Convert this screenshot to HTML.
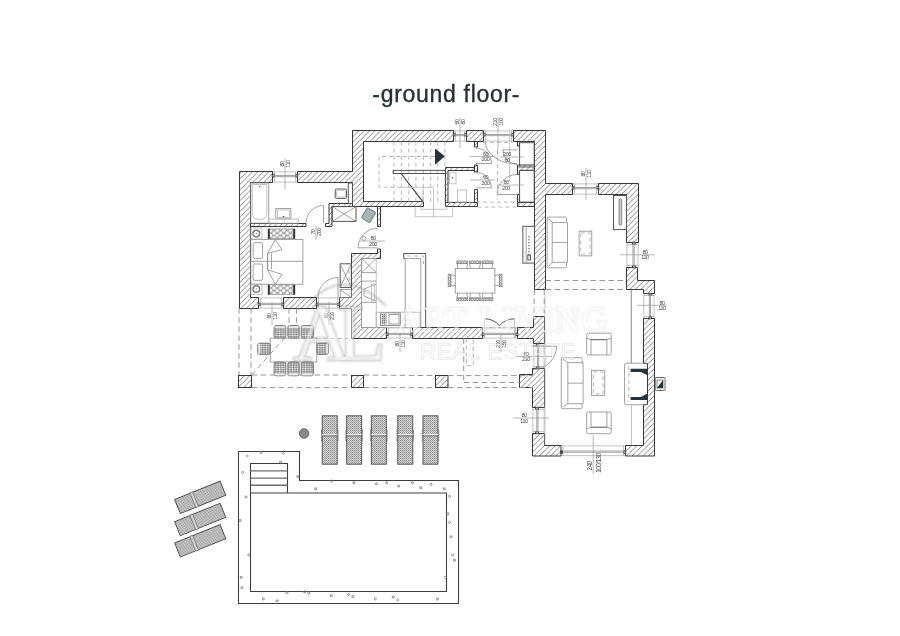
<!DOCTYPE html><html><head><meta charset="utf-8"><style>html,body{margin:0;padding:0;background:#fff;width:900px;height:636px;overflow:hidden}svg{display:block}</style></head><body>
<svg width="900" height="636" viewBox="0 0 900 636" style="will-change:transform">
<defs>
<pattern id="h" patternUnits="userSpaceOnUse" width="5.44" height="5.44">
<path d="M-1,1 L1,-1 M0,5.44 L5.44,0 M4.44,6.44 L6.44,4.44" stroke="#5e5e5e" stroke-width="0.75"/>
</pattern>
<pattern id="dots" patternUnits="userSpaceOnUse" width="2" height="2">
<rect width="2" height="2" fill="#bdbdbd"/><rect width="1" height="1" fill="#7a7a7a"/>
</pattern>
<pattern id="dots2" patternUnits="userSpaceOnUse" width="2" height="2">
<rect width="2" height="2" fill="#d2d2d2"/><rect width="1" height="1" fill="#949494"/><rect x="1" y="1" width="1" height="1" fill="#a8a8a8"/>
</pattern>
<pattern id="mesh" patternUnits="userSpaceOnUse" width="2.6" height="2.2">
<rect width="2.6" height="2.2" fill="#8c8c8c"/><ellipse cx="1.3" cy="1.1" rx="0.9" ry="0.75" fill="#f4f4f4"/>
</pattern>
<pattern id="cir" patternUnits="userSpaceOnUse" width="6.6" height="5" x="269" y="229.3">
<rect width="6.6" height="5" fill="#9a9a9a"/><circle cx="1.65" cy="1.25" r="1.7" fill="#fafafa"/><circle cx="4.95" cy="3.75" r="1.7" fill="#fafafa"/><circle cx="4.95" cy="-1.25" r="1.7" fill="#fafafa"/><circle cx="1.65" cy="6.25" r="1.7" fill="#fafafa"/><circle cx="-1.65" cy="3.75" r="1.7" fill="#fafafa"/><circle cx="8.25" cy="1.25" r="1.7" fill="#fafafa"/>
</pattern>
<filter id="soft" x="-5%" y="-20%" width="110%" height="140%"><feGaussianBlur stdDeviation="0.9"/></filter>
</defs>
<style>
.w{fill:url(#h);stroke:#2e2e2e;stroke-width:0.95;stroke-linejoin:miter}
.l{fill:none;stroke:#8c8c8c;stroke-width:0.8}
.lg{fill:none;stroke:#b5b5b5;stroke-width:0.8}
.ld{fill:none;stroke:#555;stroke-width:1}
.pl{fill:none;stroke:#3e3e3e;stroke-width:1.05}
.pl2{fill:none;stroke:#6a6a6a;stroke-width:1.4}
.lk{fill:none;stroke:#3a3a3a;stroke-width:1.1}
.dash{fill:none;stroke:#959595;stroke-width:1;stroke-dasharray:5.5 3.5}
.dashl{fill:none;stroke:#b0b0b0;stroke-width:0.9;stroke-dasharray:4 3}
.t{font-family:"Liberation Sans",sans-serif;fill:#4a4a4a;font-size:5.5px;letter-spacing:-0.45px}
.wm{font-family:"Liberation Serif",serif;fill:#fff;fill-opacity:0.85;stroke:#e0e0e0;stroke-width:1.6;paint-order:stroke}
.wml{fill:none;stroke:#e6e6e6;stroke-width:1.1}
.dl{fill:none;stroke:#9a9a9a;stroke-width:0.7}
.wms{font-family:"Liberation Sans",sans-serif;fill:#fff;fill-opacity:0.6;stroke:#e2e2e2;stroke-width:0.8;paint-order:stroke}
</style>

<g filter="url(#soft)"><text class="wm" x="396" y="331.5" font-size="35" letter-spacing="1.6" fill="none" stroke="#c8c8c8" stroke-width="2.8">ART LIVING</text></g>
<text class="wms" x="420" y="358.8" font-size="22" letter-spacing="1" style="fill:none">REAL ESTATE</text>
<g filter="url(#soft)"><text x="293" y="359.5" font-size="80" style="font-family:'Liberation Serif',serif" fill="none" stroke="#cfcfcf" stroke-width="2.4">A</text><text x="337" y="359.5" font-size="80" style="font-family:'Liberation Serif',serif" fill="none" stroke="#cfcfcf" stroke-width="2.4">L</text><path d="M311,301 Q345,266 386,306" fill="none" stroke="#cfcfcf" stroke-width="2.4"/></g>
<line class="lg" x1="272.5" y1="171.9" x2="297.5" y2="171.9"/>
<line class="lg" x1="272.5" y1="182.1" x2="297.5" y2="182.1"/>
<line class="l" x1="274.5" y1="175.46" x2="295.5" y2="175.46"/>
<line class="l" x1="274.5" y1="176.66" x2="295.5" y2="176.66"/>
<line class="lg" x1="274.5" y1="171.5" x2="274.5" y2="182.5"/>
<line class="lg" x1="295.5" y1="171.5" x2="295.5" y2="182.5"/>
<line class="lg" x1="453.5" y1="130.9" x2="466.5" y2="130.9"/>
<line class="lg" x1="453.5" y1="141.1" x2="466.5" y2="141.1"/>
<line class="l" x1="455.5" y1="134.46" x2="464.5" y2="134.46"/>
<line class="l" x1="455.5" y1="135.66" x2="464.5" y2="135.66"/>
<line class="lg" x1="455.5" y1="130.5" x2="455.5" y2="141.5"/>
<line class="lg" x1="464.5" y1="130.5" x2="464.5" y2="141.5"/>
<line class="lg" x1="483.5" y1="130.9" x2="513.5" y2="130.9"/>
<line class="lg" x1="483.5" y1="141.1" x2="513.5" y2="141.1"/>
<line class="l" x1="485.5" y1="134.46" x2="511.5" y2="134.46"/>
<line class="l" x1="485.5" y1="135.66" x2="511.5" y2="135.66"/>
<line class="lg" x1="485.5" y1="130.5" x2="485.5" y2="141.5"/>
<line class="lg" x1="511.5" y1="130.5" x2="511.5" y2="141.5"/>
<line class="lg" x1="572.5" y1="183.9" x2="598.5" y2="183.9"/>
<line class="lg" x1="572.5" y1="194.1" x2="598.5" y2="194.1"/>
<line class="l" x1="574.5" y1="187.46" x2="596.5" y2="187.46"/>
<line class="l" x1="574.5" y1="188.66" x2="596.5" y2="188.66"/>
<line class="lg" x1="574.5" y1="183.5" x2="574.5" y2="194.5"/>
<line class="lg" x1="596.5" y1="183.5" x2="596.5" y2="194.5"/>
<line class="lg" x1="258.5" y1="297.9" x2="283.5" y2="297.9"/>
<line class="lg" x1="258.5" y1="308.1" x2="283.5" y2="308.1"/>
<line class="l" x1="260.5" y1="303.34" x2="281.5" y2="303.34"/>
<line class="l" x1="260.5" y1="304.54" x2="281.5" y2="304.54"/>
<line class="lg" x1="260.5" y1="297.5" x2="260.5" y2="308.5"/>
<line class="lg" x1="281.5" y1="297.5" x2="281.5" y2="308.5"/>
<line class="lg" x1="316.5" y1="297.9" x2="339.5" y2="297.9"/>
<line class="lg" x1="316.5" y1="308.1" x2="339.5" y2="308.1"/>
<line class="l" x1="318.5" y1="303.34" x2="337.5" y2="303.34"/>
<line class="l" x1="318.5" y1="304.54" x2="337.5" y2="304.54"/>
<line class="lg" x1="318.5" y1="297.5" x2="318.5" y2="308.5"/>
<line class="lg" x1="337.5" y1="297.5" x2="337.5" y2="308.5"/>
<line class="lg" x1="386.5" y1="327.9" x2="412.5" y2="327.9"/>
<line class="lg" x1="386.5" y1="338.1" x2="412.5" y2="338.1"/>
<line class="l" x1="388.5" y1="333.34" x2="410.5" y2="333.34"/>
<line class="l" x1="388.5" y1="334.54" x2="410.5" y2="334.54"/>
<line class="lg" x1="388.5" y1="327.5" x2="388.5" y2="338.5"/>
<line class="lg" x1="410.5" y1="327.5" x2="410.5" y2="338.5"/>
<line class="lg" x1="482.5" y1="327.9" x2="517.5" y2="327.9"/>
<line class="lg" x1="482.5" y1="338.1" x2="517.5" y2="338.1"/>
<line class="l" x1="484.5" y1="333.34" x2="515.5" y2="333.34"/>
<line class="l" x1="484.5" y1="334.54" x2="515.5" y2="334.54"/>
<line class="lg" x1="484.5" y1="327.5" x2="484.5" y2="338.5"/>
<line class="lg" x1="515.5" y1="327.5" x2="515.5" y2="338.5"/>
<line class="lg" x1="561" y1="445.9" x2="625.5" y2="445.9"/>
<line class="lg" x1="561" y1="455.6" x2="625.5" y2="455.6"/>
<line class="l" x1="563" y1="451.02" x2="623.5" y2="451.02"/>
<line class="l" x1="563" y1="452.22" x2="623.5" y2="452.22"/>
<line class="lg" x1="563" y1="445.5" x2="563" y2="456"/>
<line class="lg" x1="623.5" y1="445.5" x2="623.5" y2="456"/>
<line class="lg" x1="626.9" y1="242.5" x2="626.9" y2="267.5"/>
<line class="lg" x1="638.1" y1="242.5" x2="638.1" y2="267.5"/>
<line class="l" x1="632.98" y1="244.5" x2="632.98" y2="265.5"/>
<line class="l" x1="634.18" y1="244.5" x2="634.18" y2="265.5"/>
<line class="lg" x1="626.5" y1="244.5" x2="638.5" y2="244.5"/>
<line class="lg" x1="626.5" y1="265.5" x2="638.5" y2="265.5"/>
<line class="lg" x1="643.9" y1="293.5" x2="643.9" y2="318.5"/>
<line class="lg" x1="654.1" y1="293.5" x2="654.1" y2="318.5"/>
<line class="l" x1="649.34" y1="295.5" x2="649.34" y2="316.5"/>
<line class="l" x1="650.54" y1="295.5" x2="650.54" y2="316.5"/>
<line class="lg" x1="643.5" y1="295.5" x2="654.5" y2="295.5"/>
<line class="lg" x1="643.5" y1="316.5" x2="654.5" y2="316.5"/>
<line class="lg" x1="532.9" y1="407.5" x2="532.9" y2="433.5"/>
<line class="lg" x1="544.1" y1="407.5" x2="544.1" y2="433.5"/>
<line class="l" x1="536.82" y1="409.5" x2="536.82" y2="431.5"/>
<line class="l" x1="538.02" y1="409.5" x2="538.02" y2="431.5"/>
<line class="lg" x1="532.5" y1="409.5" x2="544.5" y2="409.5"/>
<line class="lg" x1="532.5" y1="431.5" x2="544.5" y2="431.5"/>
<line class="lg" x1="533.9" y1="343.5" x2="533.9" y2="368.5"/>
<line class="lg" x1="544.1" y1="343.5" x2="544.1" y2="368.5"/>
<line class="l" x1="537.46" y1="345.5" x2="537.46" y2="366.5"/>
<line class="l" x1="538.66" y1="345.5" x2="538.66" y2="366.5"/>
<line class="lg" x1="533.5" y1="345.5" x2="544.5" y2="345.5"/>
<line class="lg" x1="533.5" y1="366.5" x2="544.5" y2="366.5"/>
<polygon class="w" points="239.5,171.5 272.5,171.5 272.5,182.5 250.5,182.5 250.5,297.5 258.5,297.5 258.5,308.5 239.5,308.5"/>
<polygon class="w" points="297.5,171.5 352.5,171.5 352.5,130.5 453.5,130.5 453.5,141.5 363.5,141.5 363.5,201.5 423.5,201.5 423.5,206.5 352.5,206.5 352.5,182.5 297.5,182.5"/>
<polygon class="w" points="466.5,130.5 483.5,130.5 483.5,141.5 466.5,141.5"/>
<polygon class="w" points="513.5,130.5 545.5,130.5 545.5,183.5 572.5,183.5 572.5,194.5 545.5,194.5 545.5,289.5 534.5,289.5 534.5,141.5 513.5,141.5"/>
<polygon class="w" points="598.5,183.5 638.5,183.5 638.5,242.5 626.5,242.5 626.5,194.5 598.5,194.5"/>
<polygon class="w" points="626.5,267.5 637.5,267.5 637.5,280.5 654.5,280.5 654.5,293.5 643.5,293.5 643.5,289.5 626.5,289.5"/>
<polygon class="w" points="643.5,318.5 654.5,318.5 654.5,456 625.5,456 625.5,445.5 643.5,445.5 643.5,404.5 647.5,404.5 647.5,363.5 643.5,363.5"/>
<polygon class="w" points="532.5,433.5 544.5,433.5 544.5,445.5 561,445.5 561,456 532.5,456"/>
<polygon class="w" points="532.5,368.5 544.5,368.5 544.5,407.5 532.5,407.5 532.5,387.5 519.5,387.5 519.5,374.5 532.5,374.5"/>
<polygon class="w" points="533.5,316.5 544.5,316.5 544.5,343.5 533.5,343.5 533.5,338.5 517.5,338.5 517.5,327.5 533.5,327.5"/>
<polygon class="w" points="412.5,327.5 482.5,327.5 482.5,338.5 412.5,338.5"/>
<polygon class="w" points="351.5,253.5 377.5,253.5 377.5,249 380.5,249 380.5,258.5 361.5,258.5 361.5,327.5 386.5,327.5 386.5,338.5 351.5,338.5 351.5,308.5 339.5,308.5 339.5,297.5 351.5,297.5"/>
<polygon class="w" points="283.5,297.5 316.5,297.5 316.5,308.5 283.5,308.5"/>
<polygon class="w" points="445.5,202.5 477.5,202.5 477.5,206.5 445.5,206.5"/>
<polygon class="w" points="517.5,202.5 534.5,202.5 534.5,206.5 517.5,206.5"/>
<polygon class="w" points="250.5,223.5 306,223.5 306,226.5 250.5,226.5"/>
<polygon class="w" points="325.5,223.5 329,223.5 329,203.5 352.5,203.5 352.5,206.5 332,206.5 332,226.5 325.5,226.5"/>
<polygon class="w" points="377.5,206.5 380.5,206.5 380.5,226.5 377.5,226.5"/>
<polygon class="w" points="474.5,141.5 477.5,141.5 477.5,147 474.5,147"/>
<polygon class="w" points="474.5,165 477.5,165 477.5,172 474.5,172"/>
<polygon class="w" points="474.5,189.5 477.5,189.5 477.5,202.5 474.5,202.5"/>
<polygon class="w" points="445.5,167.5 474.5,167.5 474.5,170.5 448,170.5 448,202.5 445.5,202.5"/>
<polygon class="w" points="517.5,141.5 519.5,141.5 519.5,146 517.5,146"/>
<polygon class="w" points="517.5,165 534.5,165 534.5,170.5 519.5,170.5 519.5,174.5 517.5,174.5"/>
<polygon class="w" points="517.5,194.5 519.5,194.5 519.5,202.5 517.5,202.5"/>
<rect class="w" x="238.5" y="375.5" width="13" height="12" />
<rect class="w" x="351.5" y="375.5" width="12" height="12" />
<rect class="w" x="435.5" y="375.5" width="12.5" height="12" />
<rect x="272.2" y="174.25" width="1.8" height="2.75" fill="#fff" stroke="#2e2e2e" stroke-width="0.8"/>
<rect x="296" y="174.25" width="1.8" height="2.75" fill="#fff" stroke="#2e2e2e" stroke-width="0.8"/>
<rect x="453.2" y="133.25" width="1.8" height="2.75" fill="#fff" stroke="#2e2e2e" stroke-width="0.8"/>
<rect x="465" y="133.25" width="1.8" height="2.75" fill="#fff" stroke="#2e2e2e" stroke-width="0.8"/>
<rect x="483.2" y="133.25" width="1.8" height="2.75" fill="#fff" stroke="#2e2e2e" stroke-width="0.8"/>
<rect x="512" y="133.25" width="1.8" height="2.75" fill="#fff" stroke="#2e2e2e" stroke-width="0.8"/>
<rect x="572.2" y="186.25" width="1.8" height="2.75" fill="#fff" stroke="#2e2e2e" stroke-width="0.8"/>
<rect x="597" y="186.25" width="1.8" height="2.75" fill="#fff" stroke="#2e2e2e" stroke-width="0.8"/>
<rect x="258.2" y="303" width="1.8" height="2.75" fill="#fff" stroke="#2e2e2e" stroke-width="0.8"/>
<rect x="282" y="303" width="1.8" height="2.75" fill="#fff" stroke="#2e2e2e" stroke-width="0.8"/>
<rect x="316.2" y="303" width="1.8" height="2.75" fill="#fff" stroke="#2e2e2e" stroke-width="0.8"/>
<rect x="338" y="303" width="1.8" height="2.75" fill="#fff" stroke="#2e2e2e" stroke-width="0.8"/>
<rect x="386.2" y="333" width="1.8" height="2.75" fill="#fff" stroke="#2e2e2e" stroke-width="0.8"/>
<rect x="411" y="333" width="1.8" height="2.75" fill="#fff" stroke="#2e2e2e" stroke-width="0.8"/>
<rect x="482.2" y="333" width="1.8" height="2.75" fill="#fff" stroke="#2e2e2e" stroke-width="0.8"/>
<rect x="516" y="333" width="1.8" height="2.75" fill="#fff" stroke="#2e2e2e" stroke-width="0.8"/>
<rect x="560.7" y="450.75" width="1.8" height="2.62" fill="#fff" stroke="#2e2e2e" stroke-width="0.8"/>
<rect x="624" y="450.75" width="1.8" height="2.62" fill="#fff" stroke="#2e2e2e" stroke-width="0.8"/>
<rect x="632.5" y="242.2" width="3" height="1.8" fill="#fff" stroke="#2e2e2e" stroke-width="0.8"/>
<rect x="632.5" y="266" width="3" height="1.8" fill="#fff" stroke="#2e2e2e" stroke-width="0.8"/>
<rect x="649" y="293.2" width="2.75" height="1.8" fill="#fff" stroke="#2e2e2e" stroke-width="0.8"/>
<rect x="649" y="317" width="2.75" height="1.8" fill="#fff" stroke="#2e2e2e" stroke-width="0.8"/>
<rect x="535.5" y="407.2" width="3" height="1.8" fill="#fff" stroke="#2e2e2e" stroke-width="0.8"/>
<rect x="535.5" y="432" width="3" height="1.8" fill="#fff" stroke="#2e2e2e" stroke-width="0.8"/>
<rect x="536.25" y="343.2" width="2.75" height="1.8" fill="#fff" stroke="#2e2e2e" stroke-width="0.8"/>
<rect x="536.25" y="367" width="2.75" height="1.8" fill="#fff" stroke="#2e2e2e" stroke-width="0.8"/>
<path class="l" d="M306,223.1 A17.5,17.5 0 0 1 323.5,205.6"/>
<line class="l" x1="323.5" y1="223.1" x2="323.5" y2="205.6"/>
<path class="l" d="M318,297.5 A20,20 0 0 1 338,277.5"/>
<line class="l" x1="338" y1="297.5" x2="338" y2="277.5"/>
<path class="l" d="M358.1,247.8 A19.5,19.5 0 0 1 377.6,228.3"/>
<line class="l" x1="377.6" y1="247.8" x2="358.1" y2="247.8"/>
<circle cx="364" cy="238.5" r="2" fill="none" stroke="#777" stroke-width="0.7"/>
<path class="l" d="M476,148 A15.5,15.5 0 0 1 491.5,163.5"/>
<line class="l" x1="476" y1="163.5" x2="491.5" y2="163.5"/>
<path class="l" d="M476,172.3 A15.5,15.5 0 0 1 491.5,187.8"/>
<line class="l" x1="476" y1="187.8" x2="491.5" y2="187.8"/>
<path class="l" d="M502.8,149.9 A14.3,14.3 0 0 0 517.1,164.2"/>
<line class="l" x1="502.8" y1="149.9" x2="517.1" y2="149.9"/>
<path class="l" d="M497.1,194.5 A20,20 0 0 1 517.1,174.5"/>
<line class="l" x1="497.1" y1="194.5" x2="517.1" y2="194.5"/>
<path class="l" d="M485.4,141.7 A32,22.4 0 0 0 517.4,164.1"/>
<path class="l" d="M556.5,346.3 A23,23 0 0 1 533.5,369.3"/>
<line class="l" x1="532" y1="346.3" x2="556.5" y2="346.3"/>
<path class="ld" d="M484.5,318.8 A19.7,19.7 0 0 1 499.5,325.7 M514.5,318.8 A19.7,19.7 0 0 0 499.5,325.7"/>
<line class="lg" x1="484.5" y1="318.8" x2="484.5" y2="338.5"/>
<line class="lg" x1="514.5" y1="318.8" x2="514.5" y2="338.5"/>
<line class="dashl" x1="482.5" y1="327.5" x2="517.5" y2="327.5"/>
<rect class="l" x="250.8" y="183" width="18" height="40.1" />
<path class="lg" d="M252.3,184.5 L266.9,184.5 L266.9,213 Q266.9,219.5 259.6,219.5 Q252.3,219.5 252.3,213 Z"/>
<circle cx="259.8" cy="186.8" r="0.8" fill="#555"/>
<rect class="l" x="275.8" y="208.5" width="15.1" height="10.4" />
<rect class="lg" x="277.3" y="210" width="12.1" height="7.5" />
<rect class="lg" x="268.8" y="219" width="29.7" height="4.1" />
<circle cx="283.5" cy="216.5" r="0.8" fill="#444"/>
<rect class="ld" x="335.2" y="189" width="11.4" height="9.4" rx="1.2"/>
<rect class="lg" x="336.5" y="190.3" width="8.8" height="6.8" rx="1"/>
<rect class="ld" x="348.3" y="183" width="4.2" height="20.5" />
<rect class="ld" x="332.2" y="206.6" width="23.8" height="14.8" />
<line class="l" x1="332.2" y1="206.6" x2="356" y2="221.4"/>
<line class="l" x1="356" y1="206.6" x2="332.2" y2="221.4"/>
<g transform="translate(368.6,215.2) rotate(31)"><rect x="-5" y="-6" width="10" height="12" rx="1" fill="#a3acaf" stroke="#6d7477" stroke-width="0.8"/><path d="M-3,-4 L3,-4 M-3,-2 L3,-2 M-3,0 L3,0 M-3,2 L3,2 M-3,4 L3,4" stroke="#c6cccd" stroke-width="0.5"/></g>
<rect class="l" x="250.8" y="239.5" width="52.1" height="44.7" />
<line class="l" x1="250.8" y1="261.3" x2="302.9" y2="261.3"/>
<rect class="l" x="253.2" y="242.6" width="9.4" height="15.8" rx="1.5"/>
<rect class="l" x="253.2" y="264" width="9.4" height="16.4" rx="1.5"/>
<path class="l" d="M275.2,239.5 L282,249.5 L267.6,253.5 L267.6,269.7 L282,274.5 L275.2,284 M267.6,253.5 L267.6,269.7 M271.5,253.5 L271.5,269"/>
<path class="l" d="M275.2,239.5 L267.6,253.5 M275.2,284 L267.6,269.7"/>
<rect class="lg" x="251" y="228" width="11" height="11" />
<circle cx="256.3" cy="233.6" r="3.3" fill="none" stroke="#7a7a7a" stroke-width="1.5"/><circle cx="256.3" cy="233.6" r="0.8" fill="#999"/>
<rect class="lg" x="251" y="284" width="11" height="10.5" />
<circle cx="256.3" cy="289" r="3.3" fill="none" stroke="#7a7a7a" stroke-width="1.5"/><circle cx="256.3" cy="289" r="0.8" fill="#999"/>
<rect x="268" y="228.9" width="27" height="9.8" fill="url(#cir)" stroke="#888" stroke-width="0.6"/>
<rect x="268" y="228.9" width="1.8" height="9.8" fill="#333"/><rect x="293.2" y="228.9" width="1.8" height="9.8" fill="#333"/>
<rect x="268" y="284.8" width="27" height="9.8" fill="url(#cir)" stroke="#888" stroke-width="0.6"/>
<rect x="268" y="284.8" width="1.8" height="9.8" fill="#333"/><rect x="293.2" y="284.8" width="1.8" height="9.8" fill="#333"/>
<rect class="ld" x="340.2" y="263.8" width="11.1" height="23.6" />
<line class="l" x1="340.2" y1="263.8" x2="351.3" y2="287.4"/>
<line class="l" x1="351.3" y1="263.8" x2="340.2" y2="287.4"/>
<line class="dashl" x1="349" y1="270" x2="349" y2="282"/>
<rect class="l" x="340.2" y="289.5" width="11.1" height="8" />
<line class="l" x1="340.2" y1="289.5" x2="351.3" y2="297.5"/>
<line class="dashl" x1="394" y1="141.7" x2="394" y2="201.9"/>
<line class="dashl" x1="401.3" y1="141.7" x2="401.3" y2="201.9"/>
<line class="dashl" x1="408.8" y1="141.7" x2="408.8" y2="201.9"/>
<line class="dashl" x1="415.9" y1="141.7" x2="415.9" y2="201.9"/>
<line class="dashl" x1="423.4" y1="141.7" x2="423.4" y2="201.9"/>
<line class="dashl" x1="430.7" y1="141.7" x2="430.7" y2="201.9"/>
<line class="dashl" x1="437.8" y1="141.7" x2="437.8" y2="201.9"/>
<line class="dashl" x1="444.9" y1="141.7" x2="444.9" y2="201.9"/>
<path class="dashl" d="M435,156.5 L379.1,156.5 L379.1,187.3 L402,187.3"/>
<rect class="ld" x="393.2" y="170.4" width="52.4" height="3.1" />
<line class="lk" x1="401" y1="173.5" x2="423" y2="201.9"/>
<path class="lg" d="M402,187.3 L433.5,187.3 L433.5,216.8 M423,187.3 L423,201.9"/>
<path class="lg" d="M415.2,206.6 L415.2,216.8 L452.6,216.8 L452.6,206.6 M420.8,206.6 L420.8,209.3 L447,209.3 L447,206.6"/>
<path d="M435,148.4 L444.9,156.2 L435,164.7 Z" fill="#26343a"/>
<rect class="lg" x="449.6" y="172.8" width="6.4" height="11" />
<circle cx="452.5" cy="178" r="0.7" fill="#555"/>
<rect class="lg" x="457.5" y="190" width="9" height="12" />
<line class="lg" x1="448.8" y1="188" x2="448.8" y2="198"/>
<rect class="ld" x="519.6" y="142.7" width="14.6" height="24.3" />
<rect class="ld" x="519.6" y="170.3" width="14.6" height="31.8" />
<line class="dashl" x1="483" y1="142.4" x2="513" y2="142.4"/>
<line class="dashl" x1="447.9" y1="202.1" x2="517.1" y2="202.1"/>
<line class="dashl" x1="477.5" y1="207" x2="517.1" y2="207"/>
<rect class="lg" x="361.6" y="258.4" width="14.6" height="69.2" />
<line class="l" x1="361.6" y1="272.6" x2="376.2" y2="272.6"/>
<line class="l" x1="361.6" y1="281.1" x2="376.2" y2="281.1"/>
<line class="l" x1="361.6" y1="302.3" x2="376.2" y2="302.3"/>
<line class="l" x1="361.6" y1="258.4" x2="376.2" y2="272.6"/>
<line class="l" x1="376.2" y1="258.4" x2="361.6" y2="272.6"/>
<path class="l" d="M376,284 L364,289 L364,296 L376,301"/>
<rect class="lg" x="371.5" y="284" width="3" height="17" />
<rect class="lg" x="376.2" y="312.2" width="43.8" height="15.4" />
<rect x="380.5" y="312.9" width="19.8" height="12.7" fill="none" stroke="#777" stroke-width="0.8"/><rect x="381.5" y="314" width="5" height="10.5" fill="url(#dots)"/>
<rect class="l" x="389" y="314.5" width="10" height="9.5" />
<path class="ld" d="M405.2,258.5 L403.8,258.5 L403.8,253.5 L425.7,253.5 L425.7,327.5"/>
<path class="l" d="M405.2,327.5 L405.2,258.5 L420.8,258.5 L420.8,327.5"/>
<path class="dashl" d="M407,256 L423.5,256 L423.5,264"/>
<rect class="l" x="455.3" y="268.4" width="39.6" height="24.7" />
<path class="l" d="M457.8,268.4 L457,263.5 L467.6,263.5 L466.8,268.4"/>
<rect class="l" x="456.8" y="261" width="11" height="2.6" />
<path d="M457,261.2 L459.65,263.4 L462.3,261.2 L464.95,263.4 L467.6,261.2 M457,263.4 L459.65,261.2 L462.3,263.4 L464.95,261.2 L467.6,263.4" fill="none" stroke="#777" stroke-width="0.6"/>
<path class="l" d="M457.8,293.1 L457,298 L467.6,298 L466.8,293.1"/>
<rect class="l" x="456.8" y="298" width="11" height="2.6" />
<path d="M457,298.2 L459.65,300.4 L462.3,298.2 L464.95,300.4 L467.6,298.2 M457,300.4 L459.65,298.2 L462.3,300.4 L464.95,298.2 L467.6,300.4" fill="none" stroke="#777" stroke-width="0.6"/>
<path class="l" d="M470.5,268.4 L469.7,263.5 L480.3,263.5 L479.5,268.4"/>
<rect class="l" x="469.5" y="261" width="11" height="2.6" />
<path d="M469.7,261.2 L472.35,263.4 L475,261.2 L477.65,263.4 L480.3,261.2 M469.7,263.4 L472.35,261.2 L475,263.4 L477.65,261.2 L480.3,263.4" fill="none" stroke="#777" stroke-width="0.6"/>
<path class="l" d="M470.5,293.1 L469.7,298 L480.3,298 L479.5,293.1"/>
<rect class="l" x="469.5" y="298" width="11" height="2.6" />
<path d="M469.7,298.2 L472.35,300.4 L475,298.2 L477.65,300.4 L480.3,298.2 M469.7,300.4 L472.35,298.2 L475,300.4 L477.65,298.2 L480.3,300.4" fill="none" stroke="#777" stroke-width="0.6"/>
<path class="l" d="M482.9,268.4 L482.1,263.5 L492.7,263.5 L491.9,268.4"/>
<rect class="l" x="481.9" y="261" width="11" height="2.6" />
<path d="M482.1,261.2 L484.75,263.4 L487.4,261.2 L490.05,263.4 L492.7,261.2 M482.1,263.4 L484.75,261.2 L487.4,263.4 L490.05,261.2 L492.7,263.4" fill="none" stroke="#777" stroke-width="0.6"/>
<path class="l" d="M482.9,293.1 L482.1,298 L492.7,298 L491.9,293.1"/>
<rect class="l" x="481.9" y="298" width="11" height="2.6" />
<path d="M482.1,298.2 L484.75,300.4 L487.4,298.2 L490.05,300.4 L492.7,298.2 M482.1,300.4 L484.75,298.2 L487.4,300.4 L490.05,298.2 L492.7,300.4" fill="none" stroke="#777" stroke-width="0.6"/>
<path class="l" d="M455.3,275.6 L450.8,274.8 L450.8,286 L455.3,285.2"/>
<rect class="l" x="448.2" y="274.2" width="2.6" height="12.4" />
<path d="M448.4,274.4 L450.6,276.8 L448.4,279.2 L450.6,281.6 L448.4,284 L450.6,286.4 M450.6,274.4 L448.4,276.8 L450.6,279.2 L448.4,281.6 L450.6,284 L448.4,286.4" fill="none" stroke="#777" stroke-width="0.6"/>
<path class="l" d="M494.9,275.6 L499.4,274.8 L499.4,286 L494.9,285.2"/>
<rect class="l" x="499.4" y="274.2" width="2.6" height="12.4" />
<path d="M499.6,274.4 L501.8,276.8 L499.6,279.2 L501.8,281.6 L499.6,284 L501.8,286.4 M501.8,274.4 L499.6,276.8 L501.8,279.2 L499.6,281.6 L501.8,284 L499.6,286.4" fill="none" stroke="#777" stroke-width="0.6"/>
<rect class="ld" x="522.9" y="226.3" width="11.6" height="36.8" />
<line class="l" x1="526.2" y1="226.3" x2="526.2" y2="263.1"/>
<line class="ld" x1="529" y1="236" x2="529" y2="237.5"/>
<line class="ld" x1="529" y1="239" x2="529" y2="240.5"/>
<line class="ld" x1="529" y1="242" x2="529" y2="243.5"/>
<line class="ld" x1="529" y1="245" x2="529" y2="246.5"/>
<line class="ld" x1="529" y1="248" x2="529" y2="249.5"/>
<line class="ld" x1="529" y1="251" x2="529" y2="252.5"/>
<line class="ld" x1="529" y1="254" x2="529" y2="255.5"/>
<rect class="ld" x="527.8" y="255" width="2.6" height="5" />
<path class="l" d="M547.2,218.1 Q547.2,217.1 548.2,217.1 L565.5,217.1 Q566.5,217.1 566.5,219.1 L566.5,222.6 L567.5,222.6 L567.5,262.3 L566.5,262.3 L566.5,265.8 Q566.5,267.8 565.5,267.8 L548.2,267.8 Q547.2,267.8 547.2,266.8 Z"/>
<path class="l" d="M548.7,218.6 L552.2,222.6 L552.2,262.3 L548.7,266.3"/>
<line class="l" x1="552.2" y1="222.6" x2="566.5" y2="222.6"/>
<line class="l" x1="552.2" y1="262.3" x2="566.5" y2="262.3"/>
<line class="l" x1="552.2" y1="242.45" x2="567.5" y2="242.45"/>
<rect class="l" x="579.1" y="231.2" width="12.7" height="24.7" />
<rect class="dashl" x="580.8" y="233" width="9.3" height="21" />
<rect class="ld" x="613.5" y="195.5" width="13" height="34.1" />
<rect x="619" y="198.8" width="2.7" height="26.4" rx="1.3" fill="#ccc" stroke="#666" stroke-width="0.7"/>
<rect class="l" x="586.7" y="333.2" width="24.5" height="21.7" rx="1.5"/>
<line class="ld" x1="591" y1="339.7" x2="606.9" y2="339.7"/>
<line class="l" x1="591" y1="339.7" x2="591" y2="354.9"/>
<line class="l" x1="606.9" y1="339.7" x2="606.9" y2="354.9"/>
<line class="l" x1="586.7" y1="338.2" x2="591" y2="339.7"/>
<line class="l" x1="611.2" y1="338.2" x2="606.9" y2="339.7"/>
<rect class="l" x="586.7" y="412" width="24.5" height="21.7" rx="1.5"/>
<line class="ld" x1="591" y1="427.2" x2="606.9" y2="427.2"/>
<line class="l" x1="591" y1="412" x2="591" y2="427.2"/>
<line class="l" x1="606.9" y1="412" x2="606.9" y2="427.2"/>
<line class="l" x1="586.7" y1="428.7" x2="591" y2="427.2"/>
<line class="l" x1="611.2" y1="428.7" x2="606.9" y2="427.2"/>
<path class="l" d="M561.3,358.6 Q561.3,357.6 562.3,357.6 L581.1,357.6 Q582.1,357.6 582.1,359.6 L582.1,362.6 L583.1,362.6 L583.1,403.7 L582.1,403.7 L582.1,406.7 Q582.1,408.7 581.1,408.7 L562.3,408.7 Q561.3,408.7 561.3,407.7 Z"/>
<path class="l" d="M562.8,359.1 L567.8,362.6 L567.8,403.7 L562.8,407.2"/>
<line class="l" x1="567.8" y1="362.6" x2="582.1" y2="362.6"/>
<line class="l" x1="567.8" y1="403.7" x2="582.1" y2="403.7"/>
<line class="l" x1="567.8" y1="383.15" x2="583.1" y2="383.15"/>
<rect class="l" x="591.6" y="370.3" width="13.2" height="25.2" />
<rect class="dashl" x="593.3" y="372" width="9.8" height="21.8" />
<path class="l" d="M647.4,363.2 L626.5,363.2 Q624.5,363.2 624.5,365.2 L624.5,402.7 Q624.5,404.7 626.5,404.7 L647.4,404.7"/>
<line class="dashl" x1="628.8" y1="366" x2="628.8" y2="402"/>
<path d="M630.6,368.8 L647.4,368.8 L647.4,375.3 L640.9,371.9 L630.6,371.9 Z M630.6,400 L647.4,400 L647.4,393.5 L640.9,396.9 L630.6,396.9 Z" fill="#26343a"/>
<rect x="655.2" y="377.5" width="9.9" height="12.9" rx="1" fill="#fff" stroke="#555" stroke-width="0.9"/>
<rect x="657" y="380" width="6" height="8" fill="none" stroke="#555" stroke-width="0.7"/><path d="M657,388 L663,380 L663,388 Z" fill="#26343a"/>
<line class="lg" x1="631.5" y1="290.3" x2="631.5" y2="363.2"/>
<line class="lg" x1="631.5" y1="404.9" x2="631.5" y2="445"/>
<line class="lg" x1="545" y1="294" x2="545" y2="445"/>
<line class="dl" x1="285" y1="159" x2="285" y2="189"/>
<g transform="translate(285,164) rotate(-90)"><text class="t" x="0" y="-1" text-anchor="middle">80</text><text class="t" x="0" y="4.6" text-anchor="middle">110</text></g>
<line class="dl" x1="460" y1="117" x2="460" y2="148"/>
<g transform="translate(460,122) rotate(-90)"><text class="t" x="0" y="-1" text-anchor="middle">60</text><text class="t" x="0" y="4.6" text-anchor="middle">60</text></g>
<line class="dl" x1="498" y1="117" x2="498" y2="150"/>
<g transform="translate(498,122) rotate(-90)"><text class="t" x="0" y="-1" text-anchor="middle">210</text><text class="t" x="0" y="4.6" text-anchor="middle">100</text></g>
<line class="dashl" x1="497.5" y1="150" x2="497.5" y2="200"/>
<line class="lg" x1="509.6" y1="130" x2="509.6" y2="182"/>
<line class="dl" x1="586" y1="168" x2="586" y2="200"/>
<g transform="translate(586,174) rotate(-90)"><text class="t" x="0" y="-1" text-anchor="middle">80</text><text class="t" x="0" y="4.6" text-anchor="middle">110</text></g>
<line class="dl" x1="272" y1="302" x2="272" y2="325"/>
<g transform="translate(272,316) rotate(-90)"><text class="t" x="0" y="-1" text-anchor="middle">80</text><text class="t" x="0" y="4.6" text-anchor="middle">110</text></g>
<line class="dl" x1="329" y1="302" x2="329" y2="325"/>
<g transform="translate(329,316) rotate(-90)"><text class="t" x="0" y="-1" text-anchor="middle">80</text><text class="t" x="0" y="4.6" text-anchor="middle">210</text></g>
<line class="dl" x1="400" y1="333" x2="400" y2="352"/>
<g transform="translate(400,344) rotate(-90)"><text class="t" x="0" y="-1" text-anchor="middle">80</text><text class="t" x="0" y="4.6" text-anchor="middle">110</text></g>
<line class="dl" x1="501" y1="333" x2="501" y2="352"/>
<g transform="translate(501,344) rotate(-90)"><text class="t" x="0" y="-1" text-anchor="middle">210</text><text class="t" x="0" y="4.6" text-anchor="middle">150</text></g>
<line class="dl" x1="620" y1="254.8" x2="655" y2="254.8"/>
<text class="t" x="645" y="254" text-anchor="middle">80</text><text class="t" x="645" y="259.4" text-anchor="middle">110</text>
<line class="dl" x1="637" y1="305.3" x2="667" y2="305.3"/>
<text class="t" x="662" y="304.5" text-anchor="middle">80</text><text class="t" x="662" y="309.9" text-anchor="middle">110</text>
<line class="dl" x1="515" y1="356.5" x2="552" y2="356.5"/>
<text class="t" x="526" y="355.7" text-anchor="middle">80</text><text class="t" x="526" y="361.1" text-anchor="middle">210</text>
<line class="dl" x1="513" y1="418" x2="549" y2="418"/>
<text class="t" x="524" y="417.2" text-anchor="middle">80</text><text class="t" x="524" y="422.6" text-anchor="middle">110</text>
<line class="dl" x1="360" y1="241" x2="385" y2="241"/>
<text class="t" x="373" y="240.2" text-anchor="middle">80</text><text class="t" x="373" y="245.6" text-anchor="middle">200</text>
<line class="dl" x1="470" y1="156.5" x2="495" y2="156.5"/>
<text class="t" x="485.5" y="155.7" text-anchor="middle">60</text><text class="t" x="485.5" y="161.1" text-anchor="middle">200</text>
<line class="dl" x1="470" y1="180" x2="495" y2="180"/>
<text class="t" x="485.5" y="179.2" text-anchor="middle">60</text><text class="t" x="485.5" y="184.6" text-anchor="middle">200</text>
<line class="dl" x1="500" y1="157" x2="524" y2="157"/>
<text class="t" x="507" y="156.2" text-anchor="middle">200</text><text class="t" x="507" y="161.6" text-anchor="middle">60</text>
<line class="dl" x1="497" y1="185" x2="524" y2="185"/>
<text class="t" x="506" y="184.2" text-anchor="middle">80</text><text class="t" x="506" y="189.6" text-anchor="middle">200</text>
<line class="dl" x1="316" y1="226" x2="316" y2="240"/>
<g transform="translate(316,232) rotate(-90)"><text class="t" x="0" y="-1" text-anchor="middle">70</text><text class="t" x="0" y="4.6" text-anchor="middle">200</text></g>
<line class="dl" x1="593.2" y1="435" x2="593.2" y2="474"/>
<g transform="translate(589.6,465.8) rotate(-90)"><text class="t" x="0" y="2.4" text-anchor="middle" style="font-size:6.3px">240</text></g>
<g transform="translate(598.4,463) rotate(-90)"><text class="t" x="0" y="2.4" text-anchor="middle" style="font-size:6.3px">100/130</text></g>
<line class="dash" x1="251.7" y1="375" x2="351.4" y2="375"/>
<line class="dash" x1="363.7" y1="375" x2="435.1" y2="375.6"/>
<line class="dash" x1="448" y1="375.6" x2="533" y2="375.6"/>
<line class="dash" x1="251.7" y1="387.6" x2="351.4" y2="387.6"/>
<line class="dash" x1="363.7" y1="387.6" x2="435.1" y2="387.6"/>
<line class="dash" x1="448" y1="387.6" x2="533" y2="387.6"/>
<line class="dash" x1="239" y1="308.3" x2="239" y2="375"/>
<line class="dash" x1="251" y1="308.3" x2="251" y2="375"/>
<line class="dash" x1="289" y1="308.3" x2="289" y2="327"/>
<line class="dash" x1="296.6" y1="308.3" x2="296.6" y2="327"/>
<line class="dash" x1="251.7" y1="375" x2="296" y2="325"/>
<line class="dash" x1="463.7" y1="338.5" x2="463.7" y2="382.5"/>
<line class="dash" x1="463.7" y1="382.5" x2="521" y2="382.5"/>
<line class="dashl" x1="316.8" y1="338.5" x2="351.5" y2="338.5"/>
<path class="dashl" d="M466.3,338.5 L466.3,365.7 L473.3,365.7 L473.3,338.5"/>
<line class="dash" x1="545.5" y1="280.5" x2="626.5" y2="280.5"/>
<line class="dash" x1="545.5" y1="289.5" x2="626.5" y2="289.5"/>
<line class="l" x1="631.2" y1="290.3" x2="631.2" y2="363"/>
<line class="dash" x1="544.2" y1="289.5" x2="544.2" y2="316.4"/>
<line class="dash" x1="534.2" y1="289.5" x2="534.2" y2="316.4"/>
<rect class="l" x="270.2" y="338.1" width="46.6" height="23.9" />
<rect x="274" y="325.5" width="11.8" height="12.5" rx="2.2" fill="url(#mesh)" stroke="#6a6a6a" stroke-width="0.8"/>
<rect x="274.4" y="325.9" width="11" height="2.4" rx="1.2" fill="#f2f2f2" stroke="#999" stroke-width="0.5"/>
<rect x="274" y="362" width="11.8" height="13.8" rx="2.2" fill="url(#mesh)" stroke="#6a6a6a" stroke-width="0.8"/>
<rect x="274.4" y="373" width="11" height="2.4" rx="1.2" fill="#f2f2f2" stroke="#999" stroke-width="0.5"/>
<rect x="287.8" y="325.5" width="11.4" height="12.5" rx="2.2" fill="url(#mesh)" stroke="#6a6a6a" stroke-width="0.8"/>
<rect x="288.2" y="325.9" width="10.6" height="2.4" rx="1.2" fill="#f2f2f2" stroke="#999" stroke-width="0.5"/>
<rect x="287.8" y="362" width="11.4" height="13.8" rx="2.2" fill="url(#mesh)" stroke="#6a6a6a" stroke-width="0.8"/>
<rect x="288.2" y="373" width="10.6" height="2.4" rx="1.2" fill="#f2f2f2" stroke="#999" stroke-width="0.5"/>
<rect x="301.2" y="325.5" width="12.3" height="12.5" rx="2.2" fill="url(#mesh)" stroke="#6a6a6a" stroke-width="0.8"/>
<rect x="301.6" y="325.9" width="11.5" height="2.4" rx="1.2" fill="#f2f2f2" stroke="#999" stroke-width="0.5"/>
<rect x="301.2" y="362" width="12.3" height="13.8" rx="2.2" fill="url(#mesh)" stroke="#6a6a6a" stroke-width="0.8"/>
<rect x="301.6" y="373" width="11.5" height="2.4" rx="1.2" fill="#f2f2f2" stroke="#999" stroke-width="0.5"/>
<rect x="257.7" y="343.1" width="12.5" height="11.3" rx="2.2" fill="url(#mesh)" stroke="#6a6a6a" stroke-width="0.8"/>
<rect x="258.1" y="343.5" width="2.4" height="10.5" rx="1.2" fill="#f2f2f2" stroke="#999" stroke-width="0.5"/>
<rect x="316.8" y="343.1" width="11.8" height="11.3" rx="2.2" fill="url(#mesh)" stroke="#6a6a6a" stroke-width="0.8"/>
<rect x="325.8" y="343.5" width="2.4" height="10.5" rx="1.2" fill="#f2f2f2" stroke="#999" stroke-width="0.5"/>
<path class="pl" d="M238.5,451.5 L299.5,451.5 L299.5,480.5 L458.5,480.5 L458.5,603.5 L238.5,603.5 Z"/>
<path class="pl" d="M250.5,493 L446.5,493 L446.5,591.5 L250.5,591.5 Z"/>
<path class="pl" d="M250.5,493 L250.5,463.5 L287.5,463.5 L287.5,493"/>
<line class="pl2" x1="250.5" y1="470.9" x2="287.5" y2="470.9"/>
<line class="pl2" x1="250.5" y1="478.1" x2="287.5" y2="478.1"/>
<line class="pl2" x1="250.5" y1="485.3" x2="287.5" y2="485.3"/>
<path d="M245.9,456.1 L247.2,454.7 L248.5,456.1 L247.2,457.3 Z" transform="rotate(0 247.2 456.1)" fill="none" stroke="#7a7a7a" stroke-width="0.7"/>
<path d="M259.7,452.4 L261,451 L262.3,452.4 L261,453.6 Z" transform="rotate(47 261 452.4)" fill="none" stroke="#7a7a7a" stroke-width="0.7"/>
<path d="M282,453.4 L283.3,452 L284.6,453.4 L283.3,454.6 Z" transform="rotate(94 283.3 453.4)" fill="none" stroke="#7a7a7a" stroke-width="0.7"/>
<path d="M279.3,462 L280.6,460.6 L281.9,462 L280.6,463.2 Z" transform="rotate(141 280.6 462)" fill="none" stroke="#7a7a7a" stroke-width="0.7"/>
<path d="M241.4,472.3 L242.7,470.9 L244,472.3 L242.7,473.5 Z" transform="rotate(188 242.7 472.3)" fill="none" stroke="#7a7a7a" stroke-width="0.7"/>
<path d="M296.5,476.5 L297.8,475.1 L299.1,476.5 L297.8,477.7 Z" transform="rotate(235 297.8 476.5)" fill="none" stroke="#7a7a7a" stroke-width="0.7"/>
<path d="M244.8,497.1 L246.1,495.7 L247.4,497.1 L246.1,498.3 Z" transform="rotate(282 246.1 497.1)" fill="none" stroke="#7a7a7a" stroke-width="0.7"/>
<path d="M314.4,488.9 L315.7,487.5 L317,488.9 L315.7,490.1 Z" transform="rotate(329 315.7 488.9)" fill="none" stroke="#7a7a7a" stroke-width="0.7"/>
<path d="M330.2,481 L331.5,479.6 L332.8,481 L331.5,482.2 Z" transform="rotate(16 331.5 481)" fill="none" stroke="#7a7a7a" stroke-width="0.7"/>
<path d="M352.6,482.7 L353.9,481.3 L355.2,482.7 L353.9,483.9 Z" transform="rotate(63 353.9 482.7)" fill="none" stroke="#7a7a7a" stroke-width="0.7"/>
<path d="M375,483.7 L376.3,482.3 L377.6,483.7 L376.3,484.9 Z" transform="rotate(110 376.3 483.7)" fill="none" stroke="#7a7a7a" stroke-width="0.7"/>
<path d="M385.4,482.7 L386.7,481.3 L388,482.7 L386.7,483.9 Z" transform="rotate(157 386.7 482.7)" fill="none" stroke="#7a7a7a" stroke-width="0.7"/>
<path d="M397.4,486.1 L398.7,484.7 L400,486.1 L398.7,487.3 Z" transform="rotate(204 398.7 486.1)" fill="none" stroke="#7a7a7a" stroke-width="0.7"/>
<path d="M411.2,482.7 L412.5,481.3 L413.8,482.7 L412.5,483.9 Z" transform="rotate(251 412.5 482.7)" fill="none" stroke="#7a7a7a" stroke-width="0.7"/>
<path d="M419.5,487.8 L420.8,486.4 L422.1,487.8 L420.8,489 Z" transform="rotate(298 420.8 487.8)" fill="none" stroke="#7a7a7a" stroke-width="0.7"/>
<path d="M429.8,484.4 L431.1,483 L432.4,484.4 L431.1,485.6 Z" transform="rotate(345 431.1 484.4)" fill="none" stroke="#7a7a7a" stroke-width="0.7"/>
<path d="M442.9,488.9 L444.2,487.5 L445.5,488.9 L444.2,490.1 Z" transform="rotate(32 444.2 488.9)" fill="none" stroke="#7a7a7a" stroke-width="0.7"/>
<path d="M448.1,496.5 L449.4,495.1 L450.7,496.5 L449.4,497.7 Z" transform="rotate(79 449.4 496.5)" fill="none" stroke="#7a7a7a" stroke-width="0.7"/>
<path d="M446.3,513.7 L447.6,512.3 L448.9,513.7 L447.6,514.9 Z" transform="rotate(126 447.6 513.7)" fill="none" stroke="#7a7a7a" stroke-width="0.7"/>
<path d="M448.1,522.3 L449.4,520.9 L450.7,522.3 L449.4,523.5 Z" transform="rotate(173 449.4 522.3)" fill="none" stroke="#7a7a7a" stroke-width="0.7"/>
<path d="M449.8,536.8 L451.1,535.4 L452.4,536.8 L451.1,538 Z" transform="rotate(220 451.1 536.8)" fill="none" stroke="#7a7a7a" stroke-width="0.7"/>
<path d="M451.5,555 L452.8,553.6 L454.1,555 L452.8,556.2 Z" transform="rotate(267 452.8 555)" fill="none" stroke="#7a7a7a" stroke-width="0.7"/>
<path d="M453.2,560.2 L454.5,558.8 L455.8,560.2 L454.5,561.4 Z" transform="rotate(314 454.5 560.2)" fill="none" stroke="#7a7a7a" stroke-width="0.7"/>
<path d="M443.9,577.4 L445.2,576 L446.5,577.4 L445.2,578.6 Z" transform="rotate(1 445.2 577.4)" fill="none" stroke="#7a7a7a" stroke-width="0.7"/>
<path d="M436,599.1 L437.3,597.7 L438.6,599.1 L437.3,600.3 Z" transform="rotate(48 437.3 599.1)" fill="none" stroke="#7a7a7a" stroke-width="0.7"/>
<path d="M396.4,599.8 L397.7,598.4 L399,599.8 L397.7,601 Z" transform="rotate(95 397.7 599.8)" fill="none" stroke="#7a7a7a" stroke-width="0.7"/>
<path d="M391.9,597 L393.2,595.6 L394.5,597 L393.2,598.2 Z" transform="rotate(142 393.2 597)" fill="none" stroke="#7a7a7a" stroke-width="0.7"/>
<path d="M374,598.8 L375.3,597.4 L376.6,598.8 L375.3,600 Z" transform="rotate(189 375.3 598.8)" fill="none" stroke="#7a7a7a" stroke-width="0.7"/>
<path d="M351.6,596.4 L352.9,595 L354.2,596.4 L352.9,597.6 Z" transform="rotate(236 352.9 596.4)" fill="none" stroke="#7a7a7a" stroke-width="0.7"/>
<path d="M347.5,594.6 L348.8,593.2 L350.1,594.6 L348.8,595.8 Z" transform="rotate(283 348.8 594.6)" fill="none" stroke="#7a7a7a" stroke-width="0.7"/>
<path d="M329.9,595.7 L331.2,594.3 L332.5,595.7 L331.2,596.9 Z" transform="rotate(330 331.2 595.7)" fill="none" stroke="#7a7a7a" stroke-width="0.7"/>
<path d="M307.5,592.9 L308.8,591.5 L310.1,592.9 L308.8,594.1 Z" transform="rotate(17 308.8 592.9)" fill="none" stroke="#7a7a7a" stroke-width="0.7"/>
<path d="M303.4,591.9 L304.7,590.5 L306,591.9 L304.7,593.1 Z" transform="rotate(64 304.7 591.9)" fill="none" stroke="#7a7a7a" stroke-width="0.7"/>
<path d="M285.5,592.5 L286.8,591.1 L288.1,592.5 L286.8,593.7 Z" transform="rotate(111 286.8 592.5)" fill="none" stroke="#7a7a7a" stroke-width="0.7"/>
<path d="M275.8,600.8 L277.1,599.4 L278.4,600.8 L277.1,602 Z" transform="rotate(158 277.1 600.8)" fill="none" stroke="#7a7a7a" stroke-width="0.7"/>
<path d="M262,598.8 L263.3,597.4 L264.6,598.8 L263.3,600 Z" transform="rotate(205 263.3 598.8)" fill="none" stroke="#7a7a7a" stroke-width="0.7"/>
<path d="M240.7,587.7 L242,586.3 L243.3,587.7 L242,588.9 Z" transform="rotate(252 242 587.7)" fill="none" stroke="#7a7a7a" stroke-width="0.7"/>
<path d="M240,577.4 L241.3,576 L242.6,577.4 L241.3,578.6 Z" transform="rotate(299 241.3 577.4)" fill="none" stroke="#7a7a7a" stroke-width="0.7"/>
<path d="M247.6,555 L248.9,553.6 L250.2,555 L248.9,556.2 Z" transform="rotate(346 248.9 555)" fill="none" stroke="#7a7a7a" stroke-width="0.7"/>
<path d="M238.7,520.6 L240,519.2 L241.3,520.6 L240,521.8 Z" transform="rotate(33 240 520.6)" fill="none" stroke="#7a7a7a" stroke-width="0.7"/>
<rect x="321.3" y="430" width="16.8" height="10.8" fill="none" stroke="#777" stroke-width="0.6"/>
<rect x="322.2" y="415.8" width="15" height="48.4" fill="url(#dots2)" stroke="#4a4a4a" stroke-width="0.9"/>
<line x1="322.2" y1="434.6" x2="337.2" y2="434.6" stroke="#eee" stroke-width="1"/><line x1="322.2" y1="436" x2="337.2" y2="436" stroke="#666" stroke-width="0.8"/>
<rect x="345.8" y="430" width="16.8" height="10.8" fill="none" stroke="#777" stroke-width="0.6"/>
<rect x="346.7" y="415.8" width="15" height="48.4" fill="url(#dots2)" stroke="#4a4a4a" stroke-width="0.9"/>
<line x1="346.7" y1="434.6" x2="361.7" y2="434.6" stroke="#eee" stroke-width="1"/><line x1="346.7" y1="436" x2="361.7" y2="436" stroke="#666" stroke-width="0.8"/>
<rect x="370.4" y="430" width="16.8" height="10.8" fill="none" stroke="#777" stroke-width="0.6"/>
<rect x="371.3" y="415.8" width="15" height="48.4" fill="url(#dots2)" stroke="#4a4a4a" stroke-width="0.9"/>
<line x1="371.3" y1="434.6" x2="386.3" y2="434.6" stroke="#eee" stroke-width="1"/><line x1="371.3" y1="436" x2="386.3" y2="436" stroke="#666" stroke-width="0.8"/>
<rect x="396.9" y="430" width="16.8" height="10.8" fill="none" stroke="#777" stroke-width="0.6"/>
<rect x="397.8" y="415.8" width="15" height="48.4" fill="url(#dots2)" stroke="#4a4a4a" stroke-width="0.9"/>
<line x1="397.8" y1="434.6" x2="412.8" y2="434.6" stroke="#eee" stroke-width="1"/><line x1="397.8" y1="436" x2="412.8" y2="436" stroke="#666" stroke-width="0.8"/>
<rect x="422.1" y="430" width="16.8" height="10.8" fill="none" stroke="#777" stroke-width="0.6"/>
<rect x="423" y="415.8" width="15" height="48.4" fill="url(#dots2)" stroke="#4a4a4a" stroke-width="0.9"/>
<line x1="423" y1="434.6" x2="438" y2="434.6" stroke="#eee" stroke-width="1"/><line x1="423" y1="436" x2="438" y2="436" stroke="#666" stroke-width="0.8"/>
<circle cx="304.1" cy="433.5" r="4.8" fill="#8a8a8a" stroke="#555" stroke-width="0.8"/>
<g transform="translate(200.2,497.3) rotate(-22)"><rect x="-24.5" y="-7.6" width="49" height="15.2" fill="url(#dots2)" stroke="#4a4a4a" stroke-width="0.9"/><rect x="-8" y="-8" width="3" height="16" fill="#d0d0d0" stroke="#666" stroke-width="0.6"/></g>
<g transform="translate(200.2,519.5) rotate(-22)"><rect x="-24.5" y="-7.6" width="49" height="15.2" fill="url(#dots2)" stroke="#4a4a4a" stroke-width="0.9"/><rect x="-8" y="-8" width="3" height="16" fill="#d0d0d0" stroke="#666" stroke-width="0.6"/></g>
<g transform="translate(200.2,540.8) rotate(-22)"><rect x="-24.5" y="-7.6" width="49" height="15.2" fill="url(#dots2)" stroke="#4a4a4a" stroke-width="0.9"/><rect x="-8" y="-8" width="3" height="16" fill="#d0d0d0" stroke="#666" stroke-width="0.6"/></g>
<text x="396" y="331.5" font-size="35" letter-spacing="1.6" style="font-family:'Liberation Serif',serif" fill="#fff" fill-opacity="0.45" stroke="#fff" stroke-opacity="0.45" stroke-width="0.8">ART LIVING</text>
<text x="420" y="358.8" font-size="22" letter-spacing="1" style="font-family:'Liberation Sans',sans-serif" fill="#fff" fill-opacity="0.45">REAL ESTATE</text>
<g fill="#fff" fill-opacity="0.45"><text x="293" y="359.5" font-size="80" style="font-family:'Liberation Serif',serif">A</text><text x="337" y="359.5" font-size="80" style="font-family:'Liberation Serif',serif">L</text></g>
<text x="372.3" y="101.5" font-family="Liberation Sans, sans-serif" font-size="23" letter-spacing="0.7" fill="#263034" stroke="#263034" stroke-width="0.35">-ground floor-</text>
</svg>
</body></html>
